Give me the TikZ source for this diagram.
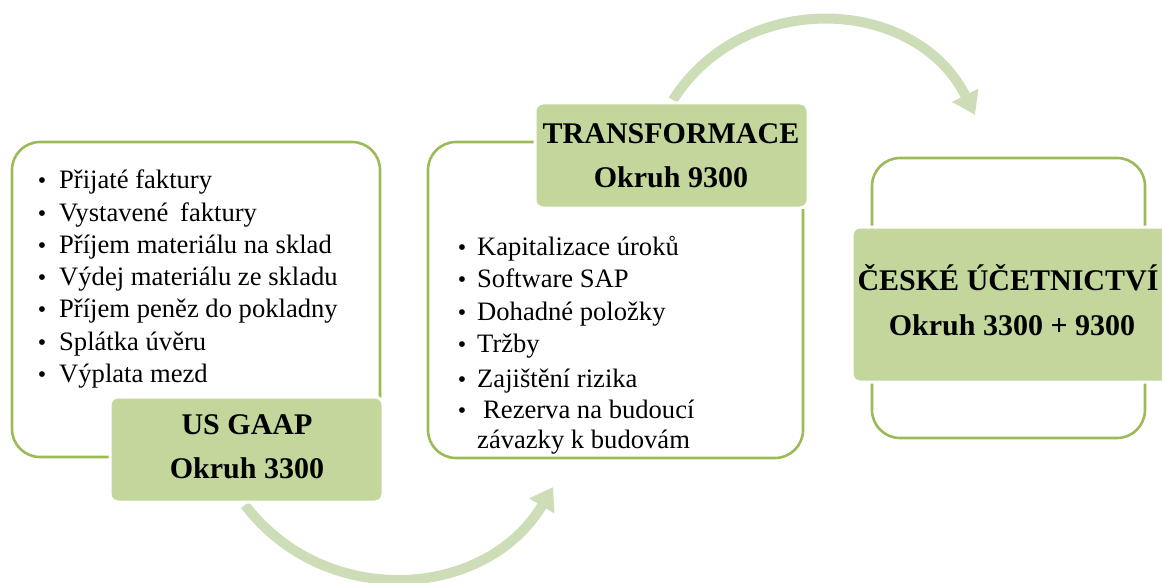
\documentclass[tikz,border=0pt]{standalone}
\usepackage{fontspec}
\setmainfont{Liberation Serif}
\usetikzlibrary{arrows.meta}
\definecolor{framegreen}{RGB}{155,187,89}
\definecolor{taggreen}{RGB}{195,214,155}
\definecolor{flowgreen}{RGB}{205,221,183}
\begin{document}
\begin{tikzpicture}[x=1pt,y=-1pt,
  frame/.style={draw=framegreen, line width=2.6pt, rounded corners=28pt, inner sep=0},
  tag/.style={fill=taggreen, draw=white, line width=3pt, rounded corners=8pt, inner sep=0},
  flow/.style={draw=flowgreen, line width=10pt, -{Triangle[length=22pt,width=28pt]}},
  item/.style={anchor=base west, inner sep=0, font=\fontsize{26.6}{32}\selectfont},
  bul/.style={anchor=base, inner sep=0, font=\fontsize{24}{32}\selectfont},
  head/.style={anchor=base, inner sep=0, font=\bfseries\fontsize{30}{44}\selectfont}]
\clip (0,0) rectangle (1162,583);
% connectors (curved arrows)
\coordinate (s1) at (245,505);
\coordinate (e1) at (553,487);
\coordinate (s2) at (673,100);
\coordinate (e2) at (975,115);
\draw[flow] (s1) .. controls (325,610) and (486,600) .. (e1);
\draw[flow] (s2) .. controls (744,-12) and (916,-4) .. (e2);
% frames
\node[frame, minimum width=368pt, minimum height=315pt] (f1) at (196,299.5) {};
\node[frame, minimum width=375pt, minimum height=316pt] (f2) at (615.5,300) {};
\node[frame, minimum width=273pt, minimum height=280pt] (f3) at (1008.5,298) {};
% labels
\node[tag, minimum width=273pt, minimum height=105pt] (t1) at (246.5,449.5) {};
\node[tag, minimum width=273pt, minimum height=105pt] (t2) at (671.5,155.5) {};
\node[tag, minimum width=328pt, minimum height=155pt] (t3) at (1016,304.5) {};
\node[head] (h1a) at (247,434) {US GAAP};
\node[head] (h1b) at (247,478) {Okruh 3300};
\node[head] (h2a) at (671,143) {TRANSFORMACE};
\node[head] (h2b) at (671,187) {Okruh 9300};
\node[head] (h3a) at (1008,290) {ČESKÉ ÚČETNICTVÍ};
\node[head] (h3b) at (1012,335) {Okruh 3300 + 9300};
% items box 1
\foreach \t [count=\i from 0] in {Přijaté faktury, Vystavené\hspace{5pt} faktury, Příjem materiálu na sklad, Výdej materiálu ze skladu, Příjem peněz do pokladny, Splátka úvěru, Výplata mezd}{
  \node[bul] (b1-\i) at (42,189+32.2*\i) {•};
  \node[item] (i1-\i) at (59,189+32.2*\i) {\t};
}
% items box 2
\foreach \t/\y [count=\i from 0] in {Kapitalizace úroků/255, Software SAP/287, Dohadné položky/320, Tržby/352, Zajištění rizika/387}{
  \node[bul] (b2-\i) at (462,\y) {•};
  \node[item] (i2-\i) at (477,\y) {\t};
}
\node[bul] (b2-5) at (462,418) {•};
\node[item] (i2-5) at (483,418) {Rezerva na budoucí};
\node[item] (i2-6) at (477,448) {závazky k budovám};
\end{tikzpicture}
\end{document}
